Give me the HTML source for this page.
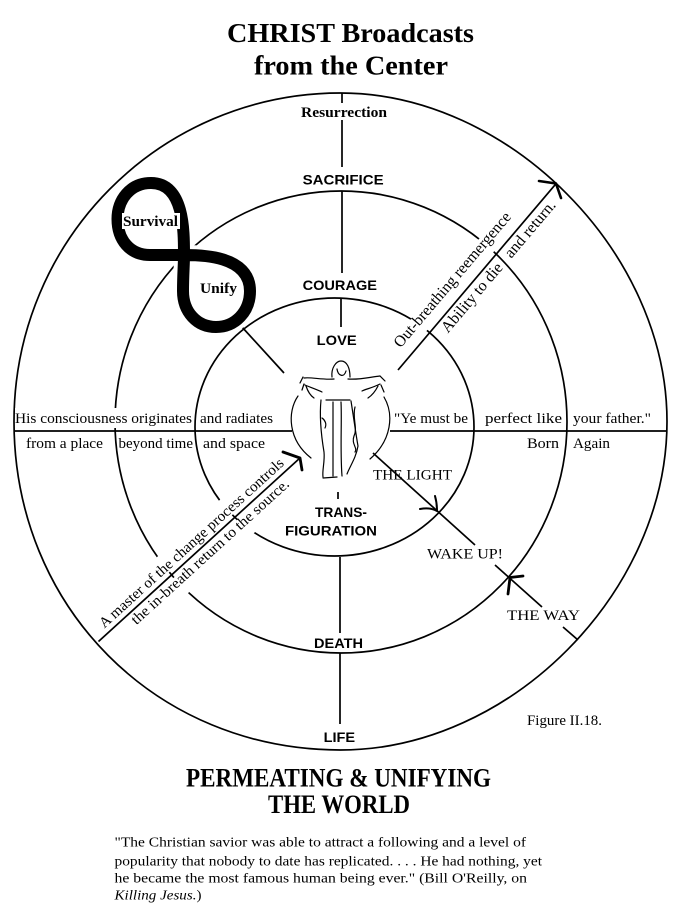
<!DOCTYPE html>
<html>
<head>
<meta charset="utf-8">
<style>
  html,body{margin:0;padding:0;background:#fff;}
  svg{display:block;}
  .serif{font-family:"Liberation Serif",serif;}
  .sans{font-family:"Liberation Sans",sans-serif;font-weight:bold;}
</style>
</head>
<body>
<svg width="682" height="911" viewBox="0 0 682 911" xmlns="http://www.w3.org/2000/svg">
<rect width="682" height="911" fill="#fff"/>

<!-- Titles -->
<text class="serif" x="227" y="42" font-size="27" font-weight="bold" textLength="247" lengthAdjust="spacingAndGlyphs">CHRIST Broadcasts</text>
<text class="serif" x="254" y="74.5" font-size="27" font-weight="bold" textLength="194" lengthAdjust="spacingAndGlyphs">from the Center</text>

<!-- Circles and straight lines -->
<g fill="none" stroke="#000" stroke-width="1.7">
  <path d="M340.5,93 C508.6,93 667,252.3 667,421.5 C667,592.3 510.3,750 340.5,750 C156,750 14,607.1 14,421.5 C14,240.1 160.2,93 340.5,93 Z"/>
  <ellipse cx="341" cy="422" rx="226" ry="231"/>
  <ellipse cx="334.5" cy="427" rx="139.5" ry="129"/>
  <path d="M342,93 V103 M342,120 V167 M342,191 V273 M341,298 V327 M338,492 V499 M340,557 V633 M340,653 V724"/>
  <path d="M14,431 H292 M390,431 H667"/>
  <path d="M242,327 L284,373"/>
  <path d="M373,453 L475,545 M495,565 L542,607 M563,627 L578,640"/>
</g>

<!-- arrowheads -->
<g fill="none" stroke="#000" stroke-linecap="round" stroke-linejoin="round">
  <path d="M539,181 L556,183.5 L561,198" stroke-width="2.6"/>
  <path d="M283,452 L300,458 L302,470" stroke-width="2.8"/>
  <path d="M420,509 Q430,507 437,511 M435,496 Q437,503 437,511" stroke-width="2"/>
  <path d="M523,576 L510,577.5 L508,594" stroke-width="2.8"/>
</g>

<!-- Horizontal-line labels -->
<rect x="15" y="408" width="178" height="20" fill="#fff"/>
<g class="serif" font-size="15">
  <text x="15" y="423" textLength="177" lengthAdjust="spacingAndGlyphs">His consciousness originates</text>
  <text x="200" y="423" textLength="73" lengthAdjust="spacingAndGlyphs">and radiates</text>
  <text x="394" y="423" textLength="74" lengthAdjust="spacingAndGlyphs">"Ye must be</text>
  <text x="485" y="423" textLength="77" lengthAdjust="spacingAndGlyphs">perfect  like</text>
  <text x="573" y="423" textLength="78" lengthAdjust="spacingAndGlyphs">your father."</text>
  <text x="26" y="448" textLength="77" lengthAdjust="spacingAndGlyphs">from a place</text>
  <text x="118.5" y="448" textLength="74.5" lengthAdjust="spacingAndGlyphs">beyond time</text>
  <text x="203" y="448" textLength="62" lengthAdjust="spacingAndGlyphs">and space</text>
  <text x="527" y="448" textLength="32" lengthAdjust="spacingAndGlyphs">Born</text>
  <text x="573" y="448" textLength="37" lengthAdjust="spacingAndGlyphs">Again</text>

  <text x="373" y="479.5" textLength="79" lengthAdjust="spacingAndGlyphs">THE LIGHT</text>
  <text x="427" y="558.5" textLength="76" lengthAdjust="spacingAndGlyphs">WAKE  UP!</text>
  <text x="507" y="620" textLength="73" lengthAdjust="spacingAndGlyphs">THE  WAY</text>
  <text x="527" y="725" textLength="75" lengthAdjust="spacingAndGlyphs">Figure II.18.</text>
</g>

<!-- Lower-left diagonal -->
<g transform="translate(98.5,641.5) rotate(-42.33)">
  <rect x="11" y="-23" width="248" height="19.5" fill="#fff"/>
  <rect x="36" y="3.5" width="214" height="21" fill="#fff"/>
  <line x1="0" y1="0" x2="272.7" y2="0" stroke="#000" stroke-width="1.7"/>
  <text class="serif" x="13" y="-5.5" font-size="15" textLength="244" lengthAdjust="spacingAndGlyphs">A master of the change process controls</text>
  <text class="serif" x="39" y="13.5" font-size="15" textLength="208" lengthAdjust="spacingAndGlyphs">the in-breath return to the source.</text>
</g>

<!-- Upper-right diagonal -->
<g transform="translate(398,370) rotate(-49.7)">
  <rect x="16" y="-23" width="176" height="19.5" fill="#fff"/>
  <rect x="58" y="3.5" width="88" height="19" fill="#fff"/>
  <rect x="155" y="3.5" width="76" height="19" fill="#fff"/>
  <line x1="0" y1="0" x2="245" y2="0" stroke="#000" stroke-width="1.7"/>
  <text class="serif" x="18" y="-12" font-size="16" textLength="172" lengthAdjust="spacingAndGlyphs">Out-breathing reemergence</text>
  <text class="serif" x="60" y="14.5" font-size="16" textLength="86" lengthAdjust="spacingAndGlyphs">Ability to die</text>
  <text class="serif" x="158" y="14.5" font-size="16" textLength="70" lengthAdjust="spacingAndGlyphs">and return.</text>
</g>

<!-- Center labels -->
<text class="serif" x="301" y="117" font-size="15" font-weight="bold" textLength="86" lengthAdjust="spacingAndGlyphs">Resurrection</text>
<g class="sans" font-size="14">
  <text x="302.6" y="184.5" textLength="81" lengthAdjust="spacingAndGlyphs">SACRIFICE</text>
  <text x="302.6" y="290" textLength="74.4" lengthAdjust="spacingAndGlyphs">COURAGE</text>
  <text x="316.7" y="345" textLength="40" lengthAdjust="spacingAndGlyphs">LOVE</text>
  <text x="315" y="517" textLength="52" lengthAdjust="spacingAndGlyphs">TRANS-</text>
  <text x="285" y="535.5" textLength="92" lengthAdjust="spacingAndGlyphs">FIGURATION</text>
  <text x="314" y="648" textLength="49" lengthAdjust="spacingAndGlyphs">DEATH</text>
  <text x="323.6" y="742" textLength="31.5" lengthAdjust="spacingAndGlyphs">LIFE</text>
</g>

<!-- Figure-eight (Survival / Unify) -->
<path d="M184,255 C184,230 184,183 151,183 C130,183 117.5,200 117.5,219 C117.5,240 130,255 150,255 C165,255 175,255 184,255 C200,255 250,255 250,291 C250,312 235,327 216,327 C197,327 183,312 183,291 C183,275 184,265 184,255 Z" fill="none" stroke="#fff" stroke-width="20"/>
<path d="M184,255 C184,230 184,183 151,183 C130,183 117.5,200 117.5,219 C117.5,240 130,255 150,255 C165,255 175,255 184,255 C200,255 250,255 250,291 C250,312 235,327 216,327 C197,327 183,312 183,291 C183,275 184,265 184,255 Z" fill="none" stroke="#000" stroke-width="12" stroke-linejoin="round"/>
<rect x="122" y="213" width="58" height="16" fill="#fff"/>
<text class="serif" x="123" y="226" font-size="15" font-weight="bold" textLength="55" lengthAdjust="spacingAndGlyphs">Survival</text>
<text class="serif" x="200" y="293" font-size="15" font-weight="bold" textLength="37" lengthAdjust="spacingAndGlyphs">Unify</text>

<!-- Christ figure sketch -->
<g fill="none" stroke="#000" stroke-width="1.2" stroke-linecap="round">
  <path d="M298,396 C287,412 288,440 311,458"/>
  <path d="M384,397 C394,414 392,440 370,459"/>
  <path d="M332,377 C331,368 336,361 341,361 C347,361 350,368 350,377"/>
  <path d="M337,369 C338,376 344,378 346,371"/>
  <path d="M334,379 C322,380 312,377 304,378"/>
  <path d="M305,385 C312,388 318,390 322,392"/>
  <path d="M303,377 L300,383 M304,384 L302,390"/>
  <path d="M306,386 C308,392 311,396 314,398"/>
  <path d="M348,379 C360,380 370,377 380,376"/>
  <path d="M380,384 C372,388 366,389 362,391"/>
  <path d="M380,376 L385,381 M381,385 L384,392"/>
  <path d="M378,386 C375,392 371,396 368,398"/>
  <path d="M321,400 C319,420 322,440 324,452 C325,462 322,470 323,477"/>
  <path d="M351,401 C354,420 356,435 358,446 C356,458 350,466 347,474"/>
  <path d="M323,478 L337,477"/>
  <path d="M333,402 L333,476"/>
  <path d="M341,402 C342,420 340,450 342,476"/>
  <path d="M355,407 C352,418 358,428 354,436 C351,444 358,448 355,452"/>
  <path d="M326,400 L350,400"/>
  <path d="M322,418 C325,420 327,424 325,428"/>
</g>

<!-- Bottom title -->
<text class="serif" x="186" y="786.5" font-size="26" font-weight="bold" textLength="305" lengthAdjust="spacingAndGlyphs">PERMEATING &amp; UNIFYING</text>
<text class="serif" x="268" y="813" font-size="26" font-weight="bold" textLength="142" lengthAdjust="spacingAndGlyphs">THE WORLD</text>

<!-- Quote -->
<g class="serif" font-size="14">
  <text x="114.5" y="846.5" textLength="411.5" lengthAdjust="spacingAndGlyphs">"The Christian savior was able to attract a following and a level of</text>
  <text x="114.5" y="865.5" textLength="427.5" lengthAdjust="spacingAndGlyphs">popularity that nobody to date has replicated. . . .  He had nothing, yet</text>
  <text x="114.5" y="882.5" textLength="412.5" lengthAdjust="spacingAndGlyphs">he became the most famous human being ever."   (Bill O'Reilly, on</text>
  <text x="114.5" y="899.5" textLength="87" lengthAdjust="spacingAndGlyphs"><tspan font-style="italic">Killing Jesus.</tspan>)</text>
</g>
</svg>
</body>
</html>
